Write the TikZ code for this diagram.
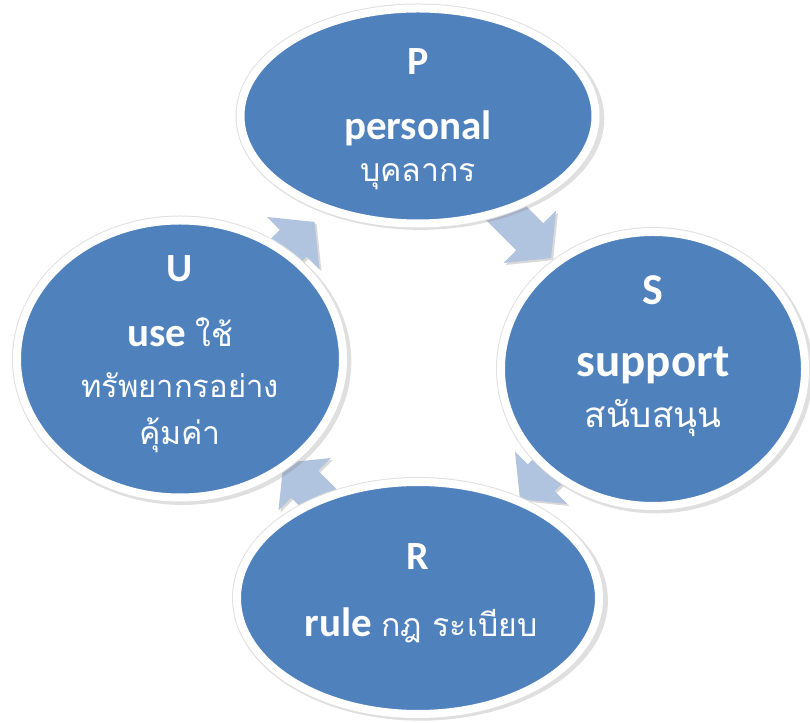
\documentclass[tikz,border=0pt]{standalone}
\usepackage{fontspec}
\setmainfont{Carlito}
\newfontfamily\thai[Script=Thai]{Loma}
\usetikzlibrary{shapes.geometric,shadows,calc}
\definecolor{psrublue}{HTML}{4F81BD}
\definecolor{psrusky}{HTML}{B0C3DF}
\pgfdeclarelayer{background}
\pgfsetlayers{background,main}

\tikzset{
	turn/.pic={
		\fill[psrusky, drop shadow={shadow xshift=2pt, shadow yshift=-2pt, opacity=0.3}]
		(-60,-19) -- (-8,-19) -- (-8,-37) -- (22,0) -- (-8,37) -- (-8,19) -- (-60,19) -- cycle;
	}
}

\begin{document}
\begin{tikzpicture}[x=1pt,y=1pt,
		bubble/.style={ellipse, fill=psrublue, draw=white, line width=8pt, inner sep=0pt,
			drop shadow={shadow xshift=2.5pt, shadow yshift=-2.5pt, shadow scale=1.035, opacity=0.25},
			preaction={draw=black!12, line width=10pt}},
		letter/.style={text=white, anchor=base, inner sep=0pt, font=\bfseries\fontsize{40}{48}\selectfont},
		word/.style={text=white, anchor=base, inner sep=0pt, font=\bfseries\fontsize{41}{49}\selectfont},
		thaiword/.style={text=white, anchor=base, inner sep=0pt, font=\thai\fontsize{32}{38}\selectfont}]
		
		\useasboundingbox (0,0) rectangle (810,722);
		
		% the four circles of the cycle
		\node[bubble, minimum width=355pt, minimum height=215pt] (P) at (418,606) {};
		\node[bubble, minimum width=304pt, minimum height=274pt] (S) at (653,353) {};
		\node[bubble, minimum width=362pt, minimum height=232pt] (R) at (418,124) {};
		\node[bubble, minimum width=326pt, minimum height=277pt] (U) at (180,363) {};
		
		% arrows between them, under the circles
		\begin{pgfonlayer}{background}
			\pic[rotate=45] (UP) at ($(U)!0.5!(P)$) {turn};
			\pic[rotate=-45] (PS) at ($(P)!0.5!(S)$) {turn};
			\pic[rotate=-135] (SR) at ($(S)!0.5!(R)$) {turn};
			\pic[rotate=135] (RU) at ($(R)!0.5!(U)$) {turn};
		\end{pgfonlayer}
		
		% texts
		\node[letter] (Pl) at (418,647) {P};
		\node[word] (Pw) at (418,582) {personal};
		\node[thaiword] (Pt) at (418,540) {บุคลากร};
		
		\node[letter, font=\bfseries\fontsize{44}{52}\selectfont] (Sl) at (653,417) {S};
		\node[word, font=\bfseries\fontsize{47}{56}\selectfont] (Sw) at (653,345) {support};
		\node[thaiword, font=\thai\fontsize{35}{42}\selectfont] (St) at (653,294) {สนับสนุน};
		
		\node[letter] (Rl) at (418,152) {R};
		\node[word] (Rw) at (421,85) {rule {\thai\mdseries\fontsize{32}{38}\selectfont กฎ ระเบียบ}};
		
		\node[letter] (Ul) at (180,440) {U};
		\node[word] (Uw) at (180,375) {use {\thai\mdseries\fontsize{32}{38}\selectfont ใช้}};
		\node[thaiword, font=\thai\fontsize{31}{37}\selectfont] (Ut1) at (180,324) {ทรัพยากรอย่าง};
		\node[thaiword] (Ut2) at (180,277) {คุ้มค่า};
		
\end{tikzpicture}
\end{document}
